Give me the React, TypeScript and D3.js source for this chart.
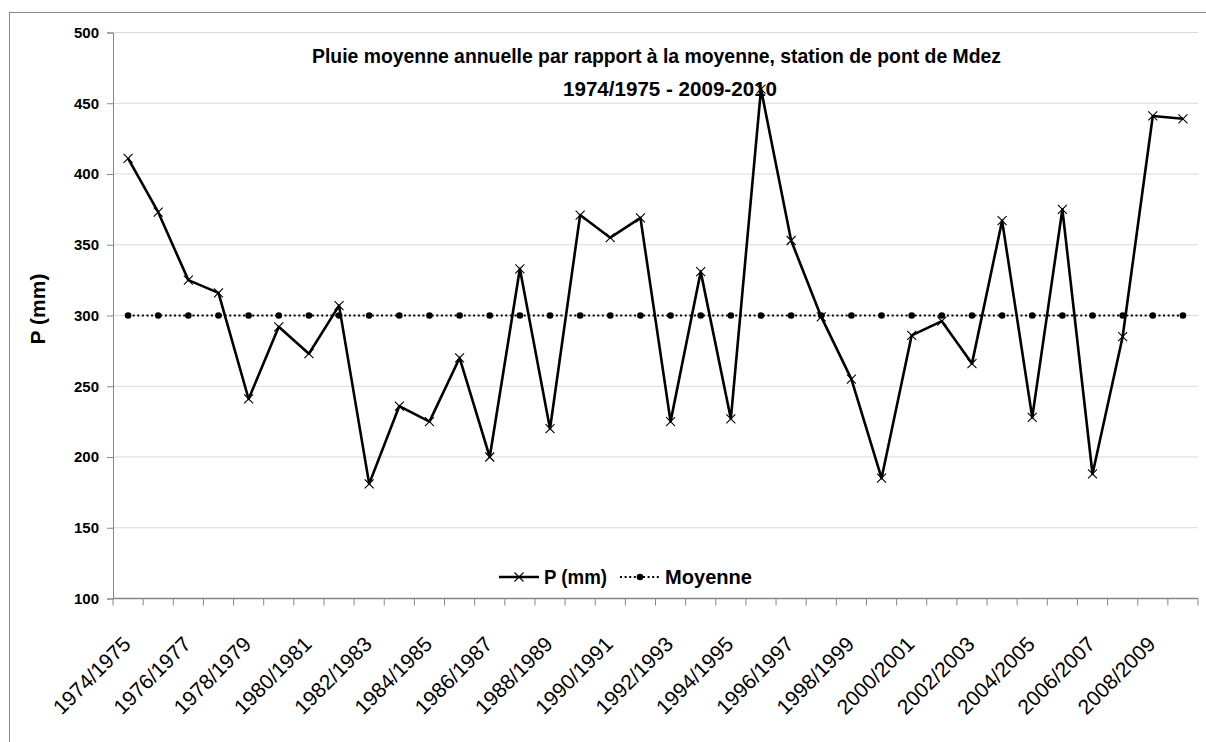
import { useEffect, useRef } from 'react'
import * as d3 from 'd3'

const W = 1206, H = 742
const M = { left: 113, right: 1198, top: 32.5, bottom: 598.5 }

const YEARS = [
  '1974/1975', '1975/1976', '1976/1977', '1977/1978', '1978/1979', '1979/1980',
  '1980/1981', '1981/1982', '1982/1983', '1983/1984', '1984/1985', '1985/1986',
  '1986/1987', '1987/1988', '1988/1989', '1989/1990', '1990/1991', '1991/1992',
  '1992/1993', '1993/1994', '1994/1995', '1995/1996', '1996/1997', '1997/1998',
  '1998/1999', '1999/2000', '2000/2001', '2001/2002', '2002/2003', '2003/2004',
  '2004/2005', '2005/2006', '2006/2007', '2007/2008', '2008/2009', '2009/2010',
]

const P_MM = [
  411, 373, 325, 316, 241, 292, 273, 307, 181, 236, 225, 270,
  200, 333, 220, 371, 355, 369, 225, 331, 227, 460, 353, 299,
  255, 185, 286, 296, 266, 367, 228, 375, 188, 285, 441, 439,
]

const MOYENNE = [
  300, 300, 300, 300, 300, 300, 300, 300, 300, 300, 300, 300,
  300, 300, 300, 300, 300, 300, 300, 300, 300, 300, 300, 300,
  300, 300, 300, 300, 300, 300, 300, 300, 300, 300, 300, 300,
]

const Y_TICKS = [100, 150, 200, 250, 300, 350, 400, 450, 500]

const FONT = '"Liberation Sans", Arial, sans-serif'
const AXIS_GREY = '#868686'
const GRID_GREY = '#d9d9d9'

export default function App() {
  const svgRef = useRef<SVGSVGElement>(null)

  useEffect(() => {
    const svg = d3.select(svgRef.current)
    svg.selectAll('*').remove()

    const x = d3.scaleBand<string>().domain(YEARS).range([M.left, M.right])
    const cx = (d: string) => (x(d) as number) + x.bandwidth() / 2
    const y = d3.scaleLinear().domain([100, 500]).range([M.bottom, M.top])

    // chart frame
    svg.append('rect')
      .attr('x', 9.5).attr('y', 12.5).attr('width', W + 20).attr('height', H + 20)
      .attr('fill', 'white').attr('stroke', AXIS_GREY).attr('stroke-width', 1)

    // gridlines
    svg.append('g').selectAll('line')
      .data(Y_TICKS.slice(1))
      .join('line')
      .attr('x1', M.left).attr('x2', M.right)
      .attr('y1', d => y(d)).attr('y2', d => y(d))
      .attr('stroke', GRID_GREY).attr('stroke-width', 1)

    // y axis
    const yAxis = svg.append('g')
      .attr('transform', `translate(${M.left},0)`)
      .call(d3.axisLeft(y).tickValues(Y_TICKS).tickSize(6).tickPadding(8))
    yAxis.select('.domain').attr('stroke', AXIS_GREY)
    yAxis.selectAll('.tick line').attr('stroke', AXIS_GREY)
    yAxis.selectAll('.tick text')
      .attr('font-family', FONT).attr('font-size', 15).attr('font-weight', 'bold')
      .attr('fill', '#000')

    // x axis: ticks on category boundaries
    const xAxis = svg.append('g').attr('transform', `translate(0,${M.bottom})`)
    xAxis.append('line')
      .attr('x1', M.left).attr('x2', M.right)
      .attr('stroke', AXIS_GREY).attr('stroke-width', 1.5)
    xAxis.selectAll('line.tk')
      .data([...YEARS.map(d => x(d) as number), M.right])
      .join('line')
      .attr('class', 'tk')
      .attr('x1', d => d).attr('x2', d => d)
      .attr('y1', 0).attr('y2', 7)
      .attr('stroke', AXIS_GREY)
    xAxis.selectAll('text')
      .data(YEARS.filter((_, i) => i % 2 === 0))
      .join('text')
      .attr('transform', d => `translate(${cx(d) + 4},${47}) rotate(-45)`)
      .attr('text-anchor', 'end')
      .attr('font-family', FONT).attr('font-size', 21)
      .text(d => d)

    // moyenne (dotted)
    const line = d3.line<number>().x((_, i) => cx(YEARS[i])).y(d => y(d))
    svg.append('path')
      .attr('d', line(MOYENNE))
      .attr('fill', 'none').attr('stroke', '#000')
      .attr('stroke-width', 2).attr('stroke-dasharray', '2 2.6')
    svg.append('g').selectAll('circle')
      .data(MOYENNE)
      .join('circle')
      .attr('cx', (_, i) => cx(YEARS[i])).attr('cy', d => y(d))
      .attr('r', 3.3).attr('fill', '#000')

    // P (mm)
    svg.append('path')
      .attr('d', line(P_MM))
      .attr('fill', 'none').attr('stroke', '#000')
      .attr('stroke-width', 2.6).attr('stroke-linejoin', 'round')
    const s = 4.5
    svg.append('g').selectAll('path')
      .data(P_MM)
      .join('path')
      .attr('d', (d, i) => {
        const px = cx(YEARS[i]), py = y(d)
        return `M${px - s},${py - s}L${px + s},${py + s}M${px - s},${py + s}L${px + s},${py - s}`
      })
      .attr('stroke', '#000').attr('stroke-width', 1.1).attr('fill', 'none')

    // title
    svg.append('text')
      .attr('x', 312).attr('y', 63)
      .attr('font-family', FONT).attr('font-size', 21).attr('font-weight', 'bold')
      .attr('textLength', 689).attr('lengthAdjust', 'spacingAndGlyphs')
      .text('Pluie moyenne annuelle par rapport à la moyenne, station de pont de Mdez')
    svg.append('text')
      .attr('x', 563).attr('y', 95.5)
      .attr('font-family', FONT).attr('font-size', 21).attr('font-weight', 'bold')
      .attr('textLength', 214).attr('lengthAdjust', 'spacingAndGlyphs')
      .text('1974/1975 - 2009-2010')

    // y title
    svg.append('text')
      .attr('transform', `translate(45,309) rotate(-90)`)
      .attr('text-anchor', 'middle')
      .attr('font-family', FONT).attr('font-size', 21).attr('font-weight', 'bold')
      .text('P (mm)')

    // legend
    const lg = svg.append('g')
    const ly = 577
    lg.append('line').attr('x1', 499).attr('x2', 539).attr('y1', ly).attr('y2', ly)
      .attr('stroke', '#000').attr('stroke-width', 2.6)
    lg.append('path')
      .attr('d', `M${519 - s},${ly - s}L${519 + s},${ly + s}M${519 - s},${ly + s}L${519 + s},${ly - s}`)
      .attr('stroke', '#000').attr('stroke-width', 1.1)
    lg.append('text').attr('x', 544).attr('y', ly + 7)
      .attr('font-family', FONT).attr('font-size', 20).attr('font-weight', 'bold')
      .attr('textLength', 63).attr('lengthAdjust', 'spacingAndGlyphs')
      .text('P (mm)')
    lg.append('line').attr('x1', 620).attr('x2', 659).attr('y1', ly).attr('y2', ly)
      .attr('stroke', '#000').attr('stroke-width', 2).attr('stroke-dasharray', '2 2.6')
    lg.append('circle').attr('cx', 640).attr('cy', ly).attr('r', 3.3).attr('fill', '#000')
    lg.append('text').attr('x', 665).attr('y', ly + 7)
      .attr('font-family', FONT).attr('font-size', 20).attr('font-weight', 'bold')
      .attr('textLength', 87).attr('lengthAdjust', 'spacingAndGlyphs')
      .text('Moyenne')
  }, [])

  return (
    <svg
      ref={svgRef}
      width={W} height={H}
      viewBox={`0 0 ${W} ${H}`}
      style={{ position: 'absolute', left: 0, top: 0, background: 'white' }}
      aria-label="Pluie moyenne annuelle, station de pont de Mdez"
    />
  )
}
